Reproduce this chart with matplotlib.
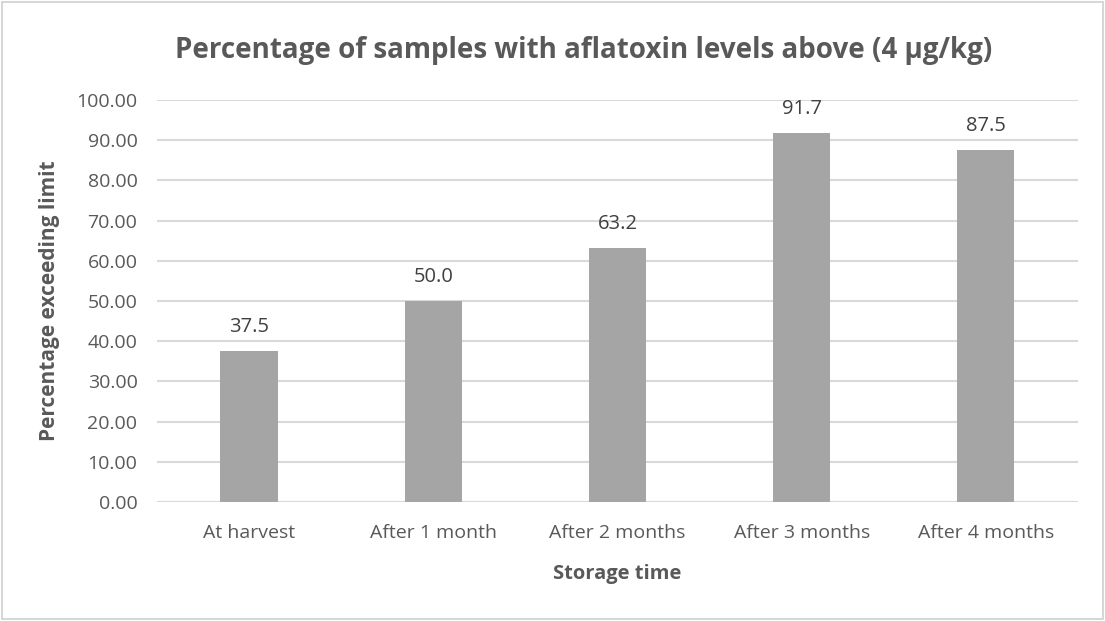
import matplotlib.pyplot as plt
from matplotlib.patches import Rectangle

categories = ["At harvest", "After 1 month", "After 2 months", "After 3 months", "After 4 months"]
percent_exceeding = [37.5, 50.0, 63.2, 91.7, 87.5]
yticks = [0, 10, 20, 30, 40, 50, 60, 70, 80, 90, 100]

plt.rcParams["font.family"] = ["Open Sans", "DejaVu Sans"]
text_color = "#595959"

fig = plt.figure(figsize=(11.05, 6.21), dpi=100)
ax = fig.add_axes([0.142, 0.1916, 0.8336, 0.6474])

x = range(len(categories))
bars = ax.bar(x, percent_exceeding, width=0.31, color="#a5a5a5", zorder=3)
for b, v in zip(bars, percent_exceeding):
    ax.annotate(f"{v:.1f}", (b.get_x() + b.get_width() / 2, v), xytext=(0, 10),
                textcoords="offset points", ha="center", va="bottom",
                fontsize=14.5, color="#404040")

ax.set_xlim(-0.5, len(categories) - 0.5)
ax.set_ylim(0, 100)
ax.set_yticks(yticks)
ax.set_yticklabels([f"{t:.2f}" for t in yticks])
ax.set_xticks(list(x))
ax.set_xticklabels(categories)
ax.tick_params(axis="both", length=0, labelsize=14, labelcolor=text_color)
ax.tick_params(axis="y", pad=14)
ax.tick_params(axis="x", pad=16)
ax.yaxis.grid(True, color="#d9d9d9", linewidth=1.5, zorder=0)
for s in ax.spines.values():
    s.set_visible(False)
ax.axhline(0, color="#d9d9d9", linewidth=1.5, zorder=1)

ax.set_xlabel("Storage time", fontsize=14.5, fontweight="bold", color=text_color, labelpad=16)
ax.set_ylabel("Percentage exceeding limit", fontsize=15, fontweight="bold", color=text_color, labelpad=12)
fig.text(0.528, 0.918, "Percentage of samples with aflatoxin levels above (4 \u00b5g/kg)",
         ha="center", va="center", fontsize=20, fontweight="bold", color=text_color)

fig.patches.append(Rectangle((0.002, 0.003), 0.996, 0.994, transform=fig.transFigure,
                             fill=False, edgecolor="#d0d0d0", linewidth=1.2))

fig.savefig("out.png", dpi=100)
